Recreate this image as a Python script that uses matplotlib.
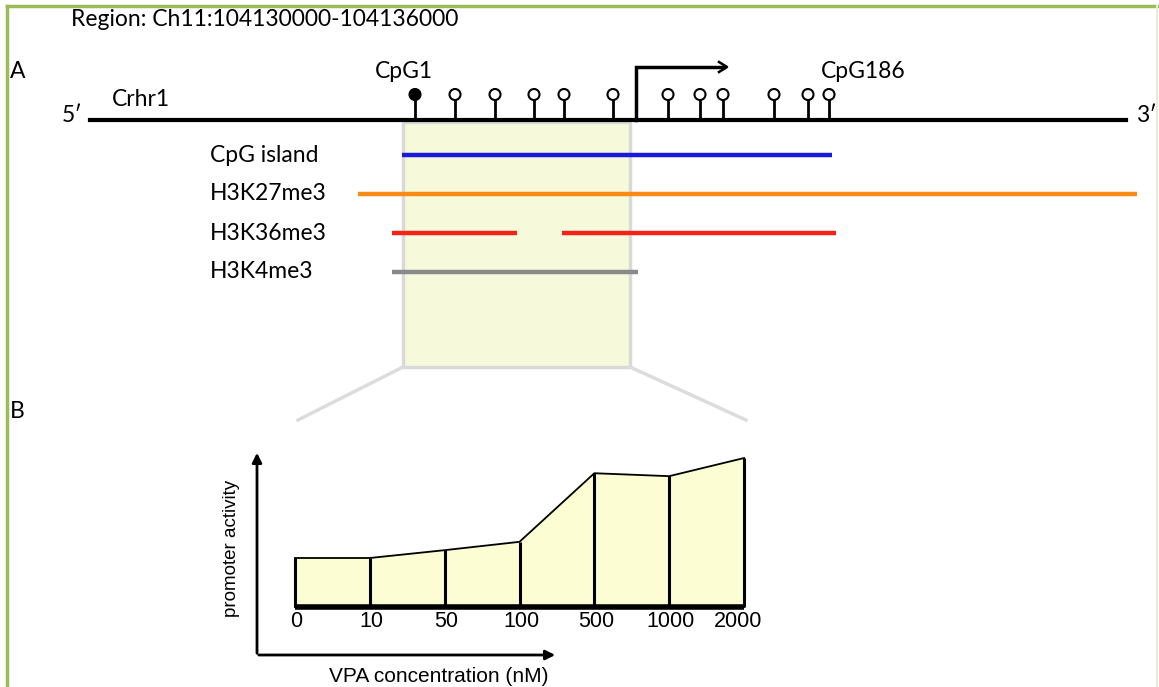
import numpy as np
import matplotlib.pyplot as plt
from matplotlib.patches import Rectangle, Circle, Polygon

# --- data (positions along the diagram, px from left) ---
region_label = 'Region: Ch11:104130000-104136000'
gene_start, gene_end = 90, 1126
cpg_methylated = [415]
cpg_unmethylated = [455, 495, 534, 564, 613, 668, 700, 723, 774, 808, 829]
tss_x = 636

track_names = ['CpG island', 'H3K27me3', 'H3K36me3', 'H3K4me3']
track_colors = ['#1a1adb', '#f98a16', '#f4231a', '#8a8a8a']
track_segments = [
    [(402, 832)],
    [(358, 1137)],
    [(392, 517), (562, 836)],
    [(392, 638)],
]

vpa_labels = ['0', '10', '50', '100', '500', '1000', '2000']
promoter_activity = [1.0, 1.0, 1.16, 1.33, 2.73, 2.67, 3.04]

font_a = 'Lato'
font_b = 'Liberation Sans'
fs_a = 16.5

fig = plt.figure(figsize=(11.59, 6.87), dpi=100)
ax = fig.add_axes([0, 0, 1, 1])
ax.set_xlim(0, 1159)
ax.set_ylim(687, 0)
ax.axis('off')

# frame
green = '#9bbb59'
ax.plot([7, 7], [6, 687], color=green, lw=2.5)
ax.plot([7, 1159], [6, 6], color=green, lw=2.5)
ax.plot([1157, 1157], [6, 687], color='#e6efd6', lw=1.5)

ax.text(71, 20, region_label, fontsize=fs_a, family=font_a, va='center', ha='left')
ax.text(10, 72, 'A', fontsize=fs_a, family=font_a, va='center')
ax.text(10, 412, 'B', fontsize=fs_a, family=font_a, va='center')

# highlight box and zoom funnel
box_l, box_r, box_t, box_b = 403, 630, 122, 367
ax.add_patch(Rectangle((box_l, box_t), box_r - box_l, box_b - box_t,
                       facecolor='#f6fadb', edgecolor='#d9d9d9', lw=2.5, zorder=1))
ax.plot([box_l, 298], [box_b, 420], color='#dcdcdc', lw=2.5, zorder=1)
ax.plot([box_r, 746], [box_b, 420], color='#dcdcdc', lw=2.5, zorder=1)

# gene line
line_y = 120
ax.plot([gene_start, gene_end], [line_y, line_y], color='black', lw=3, zorder=3)
ax.text(72, line_y - 4, '5\u2032', fontsize=fs_a, family=font_a, ha='center', va='center')
ax.text(1146, line_y - 4, '3\u2032', fontsize=fs_a, family=font_a, ha='center', va='center')
ax.text(112, 99, 'Crhr1', fontsize=fs_a, family=font_a, va='center')

# lollipops
stem_top = 99
r = 5.5
for x in cpg_methylated + cpg_unmethylated:
    ax.plot([x, x], [line_y, stem_top], color='black', lw=2, zorder=3)
for x in cpg_methylated:
    ax.add_patch(Circle((x, stem_top - r + 1), r, facecolor='black', edgecolor='black', lw=1.5, zorder=4))
for x in cpg_unmethylated:
    ax.add_patch(Circle((x, stem_top - r + 1), r, facecolor='white', edgecolor='black', lw=1.5, zorder=4))
ax.text(cpg_methylated[0] - 11, 72, 'CpG1', fontsize=fs_a, family=font_a, ha='center', va='center')
ax.text(cpg_unmethylated[-1] + 34, 71, 'CpG186', fontsize=fs_a, family=font_a, ha='center', va='center')

# transcription start arrow
ax.plot([tss_x, tss_x, 724], [line_y, 67, 67], color='black', lw=2.5, zorder=3,
        solid_joinstyle='miter')
ax.plot([719, 727, 719], [62, 67, 72], color='black', lw=1.8, zorder=3)

# tracks
track_y = [155, 194, 233, 272]
for name, col, segs, y in zip(track_names, track_colors, track_segments, track_y):
    ax.text(210, y, name, fontsize=fs_a, family=font_a, va='center', ha='left')
    for x0, x1 in segs:
        ax.plot([x0, x1], [y, y], color=col, lw=3.2, solid_capstyle='butt', zorder=2)

# --- panel B ---
W, H = 1159, 687
bl, br, bt, bb = 257, 767, 440, 665
axb = fig.add_axes([bl / W, 1 - bb / H, (br - bl) / W, (bb - bt) / H])
px_x = (744 - 295) / 6
px_y = 49
axb.set_xlim(-(295 - bl) / px_x, 6 + (br - 744) / px_x)
axb.set_ylim(-(bb - 607) / px_y, (607 - bt) / px_y)
axb.axis('off')
axb.patch.set_alpha(0)

xs = np.arange(len(promoter_activity))
verts = [(0, 0)] + list(zip(xs, promoter_activity)) + [(xs[-1], 0)]
axb.add_patch(Polygon(verts, closed=True, facecolor='#fdfdd3', edgecolor='black', lw=1.3))
axb.vlines(xs, 0, promoter_activity, color='black', lw=2.2)
axb.plot([xs[0], xs[-1]], [0, 0], color='black', lw=4, solid_capstyle='butt')
for x, lab in zip(xs, vpa_labels):
    axb.text(x + (-0.08 if x == xs[-1] else 0.02), -0.3, lab, fontsize=15.5, family=font_b,
             ha='center', va='center')

# axis arrows
ax.annotate('', xy=(257, 450), xytext=(257, 656),
            arrowprops=dict(arrowstyle='-|>', color='black', lw=2, mutation_scale=14))
ax.annotate('', xy=(558, 655), xytext=(256, 655),
            arrowprops=dict(arrowstyle='-|>', color='black', lw=2, mutation_scale=14))
ax.text(231, 548, 'promoter activity', fontsize=13.5, family=font_b, rotation=90,
        ha='center', va='center')
ax.text(439, 676, 'VPA concentration (nM)', fontsize=15, family=font_b,
        ha='center', va='center')

plt.savefig('out.png', dpi=100)
